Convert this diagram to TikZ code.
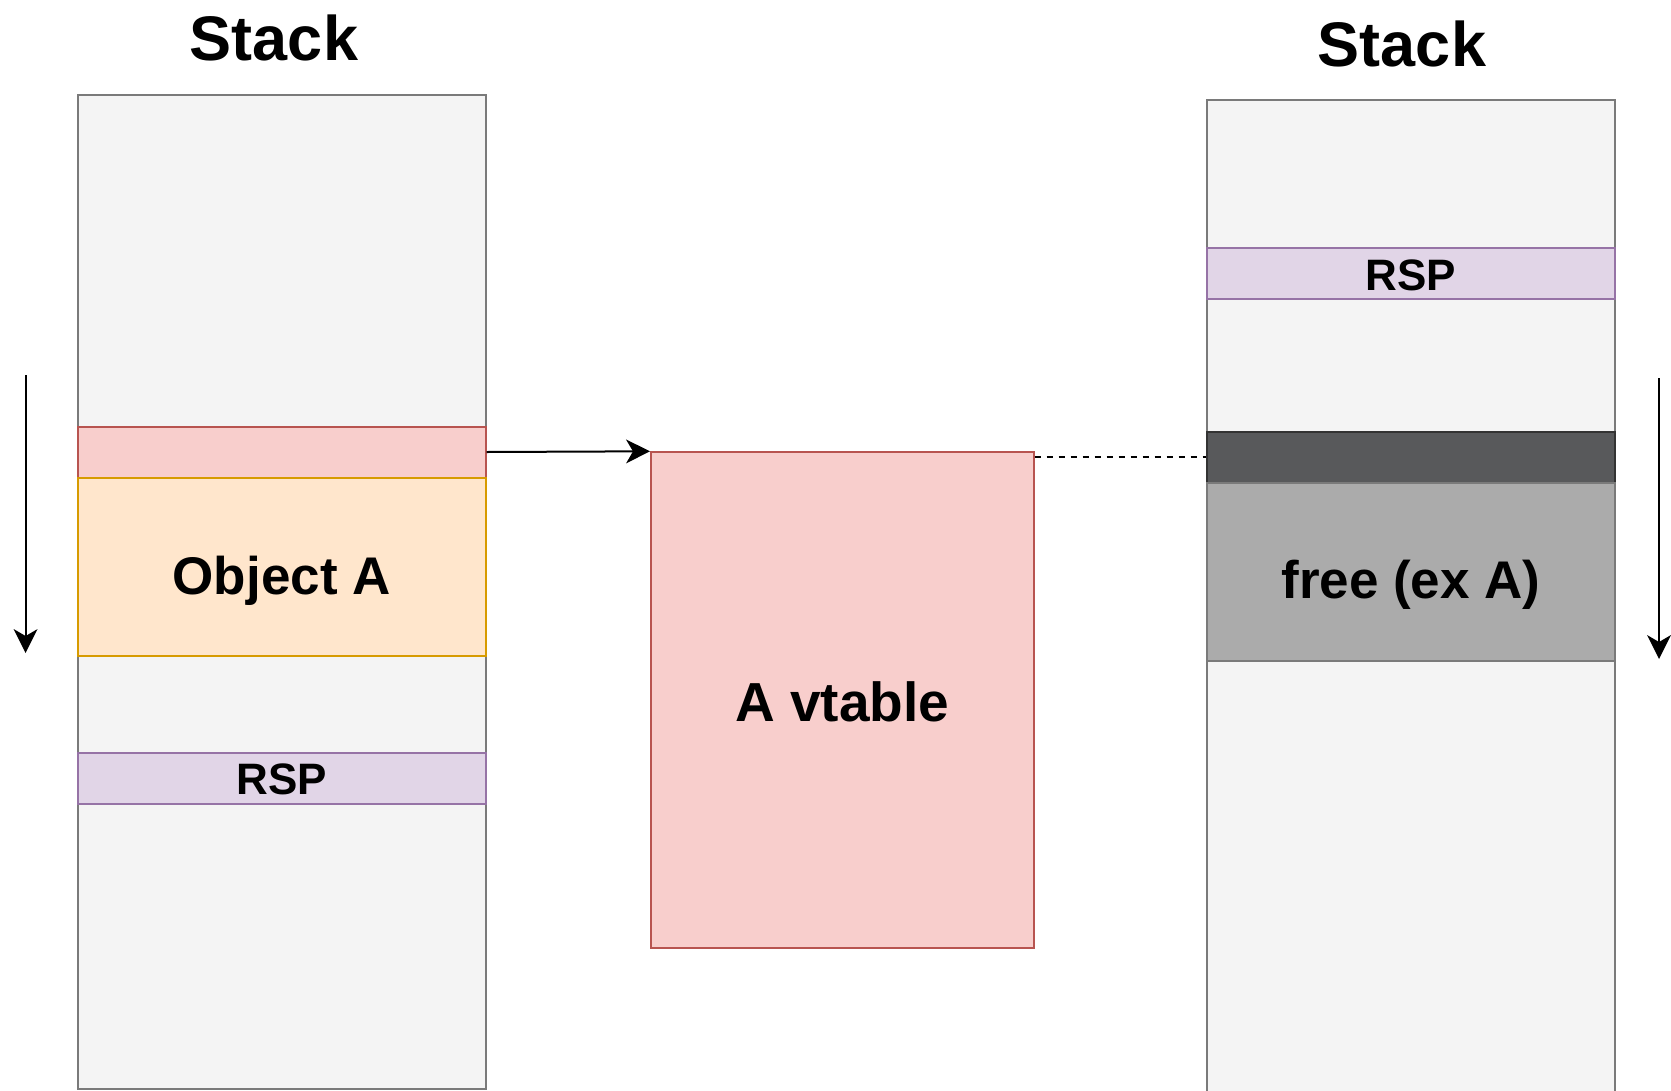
\documentclass[tikz,border=0pt]{standalone}
\usepackage{fontspec}
\setmainfont{Liberation Sans}
\usetikzlibrary{arrows.meta}

\definecolor{stackfill}{HTML}{F4F4F4}
\definecolor{stackline}{HTML}{7A7A7A}
\definecolor{redfill}{HTML}{F8CECC}
\definecolor{redline}{HTML}{B85450}
\definecolor{orangefill}{HTML}{FFE6CC}
\definecolor{orangeline}{HTML}{D79B00}
\definecolor{purplefill}{HTML}{E1D5E7}
\definecolor{purpleline}{HTML}{9673A6}
\definecolor{darkfill}{HTML}{58595B}
\definecolor{darkline}{HTML}{333333}
\definecolor{freefill}{HTML}{ABABAB}
\definecolor{freeline}{HTML}{7A7A7A}

\tikzset{
  cell/.style={draw, rectangle, inner sep=0pt, anchor=north west,
    line width=2pt, minimum width=408pt, text depth=0pt},
  stackcol/.style={cell, fill=stackfill, draw=stackline},
  vptr/.style={cell, fill=redfill, draw=redline},
  objbox/.style={cell, fill=orangefill, draw=orangeline},
  rspbox/.style={cell, fill=purplefill, draw=purpleline, text height=33pt,
    font=\fontsize{44}{50}\selectfont\bfseries},
  darkbox/.style={cell, fill=darkfill, draw=darkline},
  freebox/.style={cell, fill=freefill, draw=freeline},
  bigtext/.style={font=\fontsize{53}{60}\selectfont\bfseries},
  title/.style={anchor=base, inner sep=0pt, font=\fontsize{63}{70}\selectfont\bfseries},
  headtip/.tip={Stealth[length=24pt, width=24pt, inset=7pt, line width=0pt]},
  growarrow/.style={line width=2pt, -headtip},
  link/.style={line width=2pt, -headtip},
}

\begin{document}
\begin{tikzpicture}[x=1pt, y=-1pt]
  \useasboundingbox (0,0) rectangle (1671,1090);
  \clip (0,0) rectangle (1671,1090);

  % left stack: object with its vtable pointer
  \node[title] (ltitle) at (274,60.5) {Stack};
  \node[stackcol, minimum height=994pt] (lstack) at (76.7,93.8) {};
  \node[vptr, minimum height=51pt] (lvptr) at (76.7,425.5) {};
  \node[objbox, bigtext, minimum height=178pt, text height=55pt] (objA) at (76.7,476.5) {Object A};
  \node[rspbox, minimum height=50.5pt] (lrsp) at (76.7,752) {RSP};

  % vtable
  \node[cell, fill=redfill, draw=redline, minimum width=382.7pt, minimum height=496pt,
        font=\fontsize{55}{62}\selectfont\bfseries, text height=42pt] (vt) at (650,451.3) {A vtable};

  % right stack: object freed
  \node[title] (rtitle) at (1402,66) {Stack};
  \node[stackcol, minimum height=1010pt] (rstack) at (1206,99) {};
  \node[rspbox, minimum height=51.4pt] (rrsp) at (1206,247) {RSP};
  \node[darkbox, minimum height=51.2pt] (dark) at (1206,430.5) {};
  \node[freebox, bigtext, minimum height=178pt, text height=54pt] (free) at (1206,481.7) {free (ex A)};

  % growth direction arrows
  \coordinate (lg1) at (25.6,375);
  \coordinate (lg2) at (25.6,653);
  \coordinate (rg1) at (1659,378);
  \coordinate (rg2) at (1659,659);
  \draw[growarrow] (lg1) -- (lg2);
  \draw[growarrow] (rg1) -- (rg2);

  % connectors
  \draw[link] (lvptr.east) -- (vt.north west);
  \draw[line width=1.8pt, dash pattern=on 6pt off 6pt] (vt.north east |- dark.west) -- (dark.west);
\end{tikzpicture}
\end{document}
